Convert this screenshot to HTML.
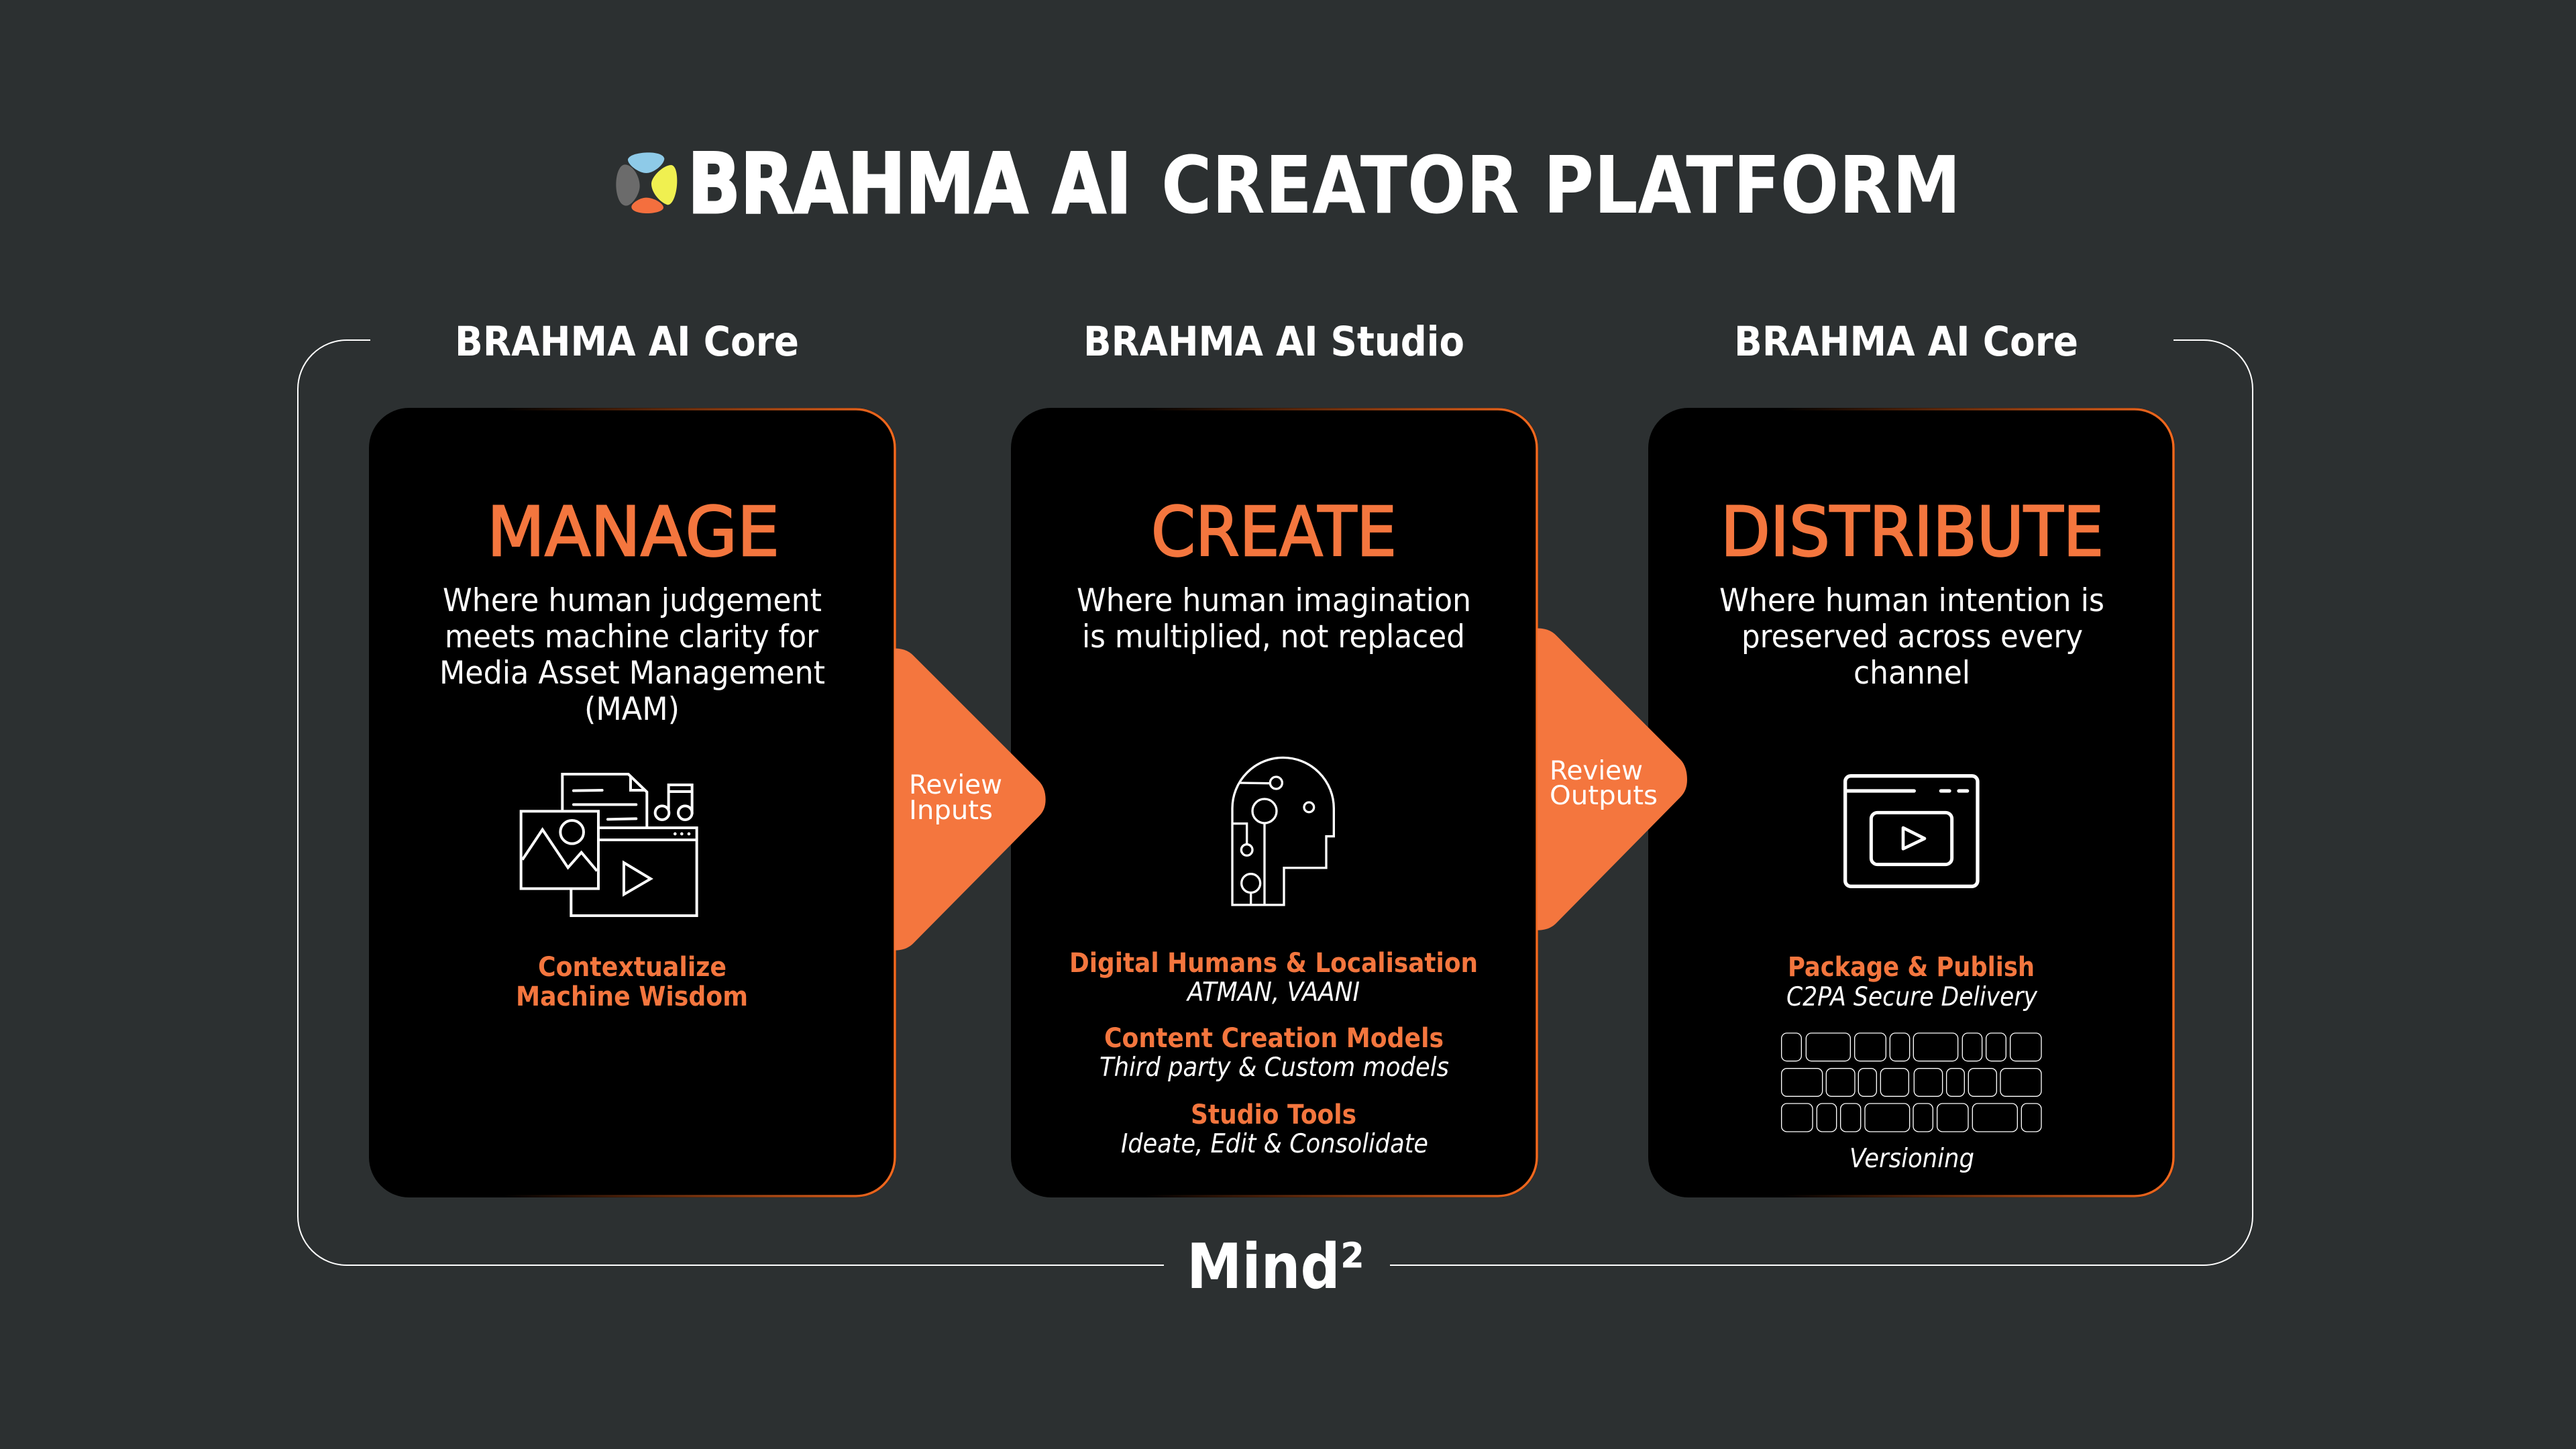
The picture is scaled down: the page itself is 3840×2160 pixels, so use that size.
<!DOCTYPE html>
<html lang="en"><head><meta charset="utf-8"><title>BRAHMA AI Creator Platform</title>
<style>
html,body{margin:0;padding:0;background:#2c3031;width:3840px;height:2160px;overflow:hidden}
svg{display:block}
text{font-family:"DejaVu Sans","Liberation Sans",sans-serif;white-space:pre}
.h{font-weight:700;fill:#fff;font-size:61px}
.t{fill:#f4763e;font-size:102px;stroke:#f4763e;stroke-width:2.5px}
.b{fill:#fff;font-size:47px}
.o{fill:#f4763e;font-weight:700;font-size:40px}
.i{fill:#fff;font-style:italic;font-size:39px}
.a{fill:#fff;font-size:39px}
.ln{fill:none;stroke:#fff;stroke-linecap:round;stroke-linejoin:miter}
</style></head><body>
<svg width="3840" height="2160" viewBox="0 0 3840 2160" xmlns="http://www.w3.org/2000/svg">
<defs>
<linearGradient id="g1" gradientUnits="userSpaceOnUse" x1="750" y1="0" x2="1336" y2="0"><stop offset="0" stop-color="#f4691e" stop-opacity="0"/><stop offset="1" stop-color="#f4691e"/></linearGradient>
<linearGradient id="g2" gradientUnits="userSpaceOnUse" x1="1707" y1="0" x2="2293" y2="0"><stop offset="0" stop-color="#f4691e" stop-opacity="0"/><stop offset="1" stop-color="#f4691e"/></linearGradient>
<linearGradient id="g3" gradientUnits="userSpaceOnUse" x1="2656" y1="0" x2="3242" y2="0"><stop offset="0" stop-color="#f4691e" stop-opacity="0"/><stop offset="1" stop-color="#f4691e"/></linearGradient>
</defs>
<rect width="3840" height="2160" fill="#2c3031"/>

<!-- logo -->
<g transform="translate(900,200) scale(.3333)">
<path d="M108,112 C115,90 165,82 200,82 C235,82 268,90 271,110 C270,135 225,174 190,174 C155,174 105,135 108,112 Z" fill="#8ecae8"/>
<path d="M95,136 C130,136 161,190 161,232 C161,270 125,320 100,320 C70,320 55,270 55,225 C55,180 70,136 95,136 Z" fill="#6b6b6b"/>
<path d="M300,138 C320,138 328,170 328,210 C328,260 310,318 285,316 C250,305 213,260 213,222 C213,190 265,140 300,138 Z" fill="#f0f050"/>
<path d="M190,284 C225,284 267,310 267,328 C267,345 225,354 195,354 C160,354 124,345 124,325 C124,310 160,284 190,284 Z" fill="#f46f3e"/>
</g>
<text x="1025" y="317" font-size="124" font-weight="700" fill="#fff" stroke="#fff" stroke-width="3" textLength="662" lengthAdjust="spacingAndGlyphs">BRAHMA AI</text>
<text x="1731" y="317" font-size="118" font-weight="700" fill="#fff" textLength="1192" lengthAdjust="spacingAndGlyphs">CREATOR PLATFORM</text>

<!-- frame -->
<path d="M552,507 L517,507 A73,73 0 0 0 444,580 L444,1813 A73,73 0 0 0 517,1886 L1735,1886 M2072,1886 L3285,1886 A73,73 0 0 0 3358,1813 L3358,580 A73,73 0 0 0 3285,507 L3240,507" fill="none" stroke="#fff" stroke-width="2"/>

<text class="h" x="678" y="530" textLength="513" lengthAdjust="spacingAndGlyphs">BRAHMA AI Core</text>
<text class="h" x="1615" y="530" textLength="568" lengthAdjust="spacingAndGlyphs">BRAHMA AI Studio</text>
<text class="h" x="2585" y="530" textLength="513" lengthAdjust="spacingAndGlyphs">BRAHMA AI Core</text>
<text x="1769" y="1920" font-size="93" font-weight="700" fill="#fff" textLength="265" lengthAdjust="spacingAndGlyphs">Mind²</text>

<!-- cards -->
<rect x="550" y="608" width="786" height="1177" rx="60" fill="#000"/>
<rect x="552" y="610" width="782" height="1173" rx="58" fill="none" stroke="url(#g1)" stroke-width="3.5"/>
<rect x="1507" y="608" width="786" height="1177" rx="60" fill="#000"/>
<rect x="1509" y="610" width="782" height="1173" rx="58" fill="none" stroke="url(#g2)" stroke-width="3.5"/>
<rect x="2457" y="608" width="785" height="1177" rx="60" fill="#000"/>
<rect x="2459" y="610" width="781" height="1173" rx="58" fill="none" stroke="url(#g3)" stroke-width="3.5"/>

<!-- arrows -->
<g transform="translate(1300,940) scale(.3333)"><path d="M100,80 C140,80 165,92 185,112 L745,672 C765,692 776,720 776,755 C776,790 765,812 745,832 L185,1398 C165,1418 140,1430 100,1430 Z" fill="#f4763e"/></g>
<text class="a" x="1355" y="1183" textLength="139" lengthAdjust="spacingAndGlyphs">Review</text>
<text class="a" x="1355" y="1221" textLength="125" lengthAdjust="spacingAndGlyphs">Inputs</text>
<g transform="translate(2260,910) scale(.3333)"><path d="M95,80 C135,80 160,92 180,112 L735,667 C755,687 765,720 765,757 C765,790 755,815 735,835 L180,1398 C160,1418 135,1430 95,1430 Z" fill="#f4763e"/></g>
<text class="a" x="2310" y="1162" textLength="139" lengthAdjust="spacingAndGlyphs">Review</text>
<text class="a" x="2310" y="1199" textLength="161" lengthAdjust="spacingAndGlyphs">Outputs</text>

<!-- card 1 text -->
<text class="t" x="726" y="828" textLength="436" lengthAdjust="spacingAndGlyphs">MANAGE</text>
<text class="b" x="660" y="911" textLength="565" lengthAdjust="spacingAndGlyphs">Where human judgement</text>
<text class="b" x="663" y="965" textLength="557" lengthAdjust="spacingAndGlyphs">meets machine clarity for</text>
<text class="b" x="655" y="1019" textLength="575" lengthAdjust="spacingAndGlyphs">Media Asset Management</text>
<text class="b" x="871" y="1073" textLength="142" lengthAdjust="spacingAndGlyphs">(MAM)</text>
<text class="o" x="802" y="1455" textLength="281" lengthAdjust="spacingAndGlyphs">Contextualize</text>
<text class="o" x="769" y="1499" textLength="346" lengthAdjust="spacingAndGlyphs">Machine Wisdom</text>

<!-- card 2 text -->
<text class="t" x="1716" y="828" textLength="366" lengthAdjust="spacingAndGlyphs">CREATE</text>
<text class="b" x="1605" y="911" textLength="588" lengthAdjust="spacingAndGlyphs">Where human imagination</text>
<text class="b" x="1613" y="965" textLength="571" lengthAdjust="spacingAndGlyphs">is multiplied, not replaced</text>
<text class="o" x="1594" y="1449" textLength="609" lengthAdjust="spacingAndGlyphs">Digital Humans &amp; Localisation</text>
<text class="i" x="1770" y="1492" textLength="257" lengthAdjust="spacingAndGlyphs">ATMAN, VAANI</text>
<text class="o" x="1646" y="1561" textLength="506" lengthAdjust="spacingAndGlyphs">Content Creation Models</text>
<text class="i" x="1639" y="1604" textLength="521" lengthAdjust="spacingAndGlyphs">Third party &amp; Custom models</text>
<text class="o" x="1775" y="1675" textLength="247" lengthAdjust="spacingAndGlyphs">Studio Tools</text>
<text class="i" x="1671" y="1718" textLength="458" lengthAdjust="spacingAndGlyphs">Ideate, Edit &amp; Consolidate</text>

<!-- card 3 text -->
<text class="t" x="2565" y="828" textLength="571" lengthAdjust="spacingAndGlyphs">DISTRIBUTE</text>
<text class="b" x="2563" y="911" textLength="574" lengthAdjust="spacingAndGlyphs">Where human intention is</text>
<text class="b" x="2596" y="965" textLength="509" lengthAdjust="spacingAndGlyphs">preserved across every</text>
<text class="b" x="2763" y="1019" textLength="174" lengthAdjust="spacingAndGlyphs">channel</text>
<text class="o" x="2665" y="1455" textLength="368" lengthAdjust="spacingAndGlyphs">Package &amp; Publish</text>
<text class="i" x="2663" y="1499" textLength="374" lengthAdjust="spacingAndGlyphs">C2PA Secure Delivery</text>
<text class="i" x="2757" y="1740" textLength="186" lengthAdjust="spacingAndGlyphs">Versioning</text>

<!-- icon 1 -->
<g transform="translate(720,1100) scale(.3333)" class="ln" stroke-width="12" style="stroke-linecap:butt">
<path d="M355,322 L355,162 L650,162 L733,242 L733,402"/>
<path d="M660,172 L660,234 L725,234"/>
<path d="M405,236 L533,234 M405,298 L685,298 M558,364 L685,361" style="stroke-linecap:round"/>
<rect x="394" y="402" width="562" height="393"/>
<path d="M394,456 L956,456"/>
<rect x="170" y="328" width="346" height="346" fill="#000"/>
<path d="M176,545 L266,410 L380,580 L440,512 L510,595"/>
<circle cx="398" cy="421" r="52"/>
<path d="M630,558 L750,630 L630,700 Z"/>
<circle cx="859" cy="429" r="7" fill="#fff" stroke="none"/><circle cx="889" cy="429" r="7" fill="#fff" stroke="none"/><circle cx="921" cy="429" r="7" fill="#fff" stroke="none"/>
<circle cx="801" cy="335" r="31"/><circle cx="904" cy="335" r="31"/>
<path d="M830,320 L830,210 L935,210 L935,340 M830,240 L935,240"/>
</g>

<!-- icon 2 -->
<g transform="translate(1780,1100) scale(.3333)" class="ln" stroke-width="10" style="stroke-linecap:butt">
<path d="M171,315 A227,227 0 0 1 625,315 L625,440 L591,440 L591,581 L402,581 L402,747 L171,747 Z"/>
<path d="M205,201 L340,203"/>
<circle cx="367" cy="201" r="27"/>
<circle cx="315" cy="327" r="54"/>
<path d="M315,385 L315,747"/>
<path d="M171,383 L236,383 L236,475"/>
<circle cx="236" cy="501" r="25"/>
<circle cx="254" cy="650" r="42"/>
<path d="M254,693 L254,747"/>
<circle cx="514" cy="310" r="22"/>
</g>

<!-- icon 3 -->
<g transform="translate(2700,1120) scale(.3333)" class="ln" stroke-width="16">
<rect x="152" y="110" width="592" height="494" rx="25"/>
<path d="M160,177 L460,177 M580,177 L618,177 M660,177 L698,177"/>
<rect x="268" y="274" width="361" height="232" rx="28" stroke-width="15"/>
<path d="M411,342 L507,390 L411,436 Z" stroke-width="14" style="stroke-linejoin:round"/>
</g>

<!-- keyboard -->
<g transform="translate(2620,1510) scale(.3333)" fill="none" stroke="#fff" stroke-width="4">
<rect x="107" y="90" width="89" height="125" rx="24"/><rect x="217" y="90" width="198" height="125" rx="24"/><rect x="434" y="90" width="140" height="125" rx="24"/><rect x="592" y="90" width="88" height="125" rx="24"/><rect x="697" y="90" width="199" height="125" rx="24"/><rect x="916" y="90" width="88" height="125" rx="24"/><rect x="1022" y="90" width="89" height="125" rx="24"/><rect x="1130" y="90" width="139" height="125" rx="24"/>
<rect x="107" y="248" width="183" height="125" rx="24"/><rect x="307" y="248" width="128" height="125" rx="24"/><rect x="451" y="248" width="81" height="125" rx="24"/><rect x="550" y="248" width="126" height="125" rx="24"/><rect x="700" y="248" width="127" height="125" rx="24"/><rect x="845" y="248" width="80" height="125" rx="24"/><rect x="943" y="248" width="126" height="125" rx="24"/><rect x="1086" y="248" width="183" height="125" rx="24"/>
<rect x="107" y="405" width="139" height="126" rx="24"/><rect x="265" y="405" width="88" height="126" rx="24"/><rect x="371" y="405" width="90" height="126" rx="24"/><rect x="480" y="405" width="200" height="126" rx="24"/><rect x="696" y="405" width="88" height="126" rx="24"/><rect x="803" y="405" width="139" height="126" rx="24"/><rect x="961" y="405" width="201" height="126" rx="24"/><rect x="1180" y="405" width="89" height="126" rx="24"/>
</g>
</svg>
</body></html>
